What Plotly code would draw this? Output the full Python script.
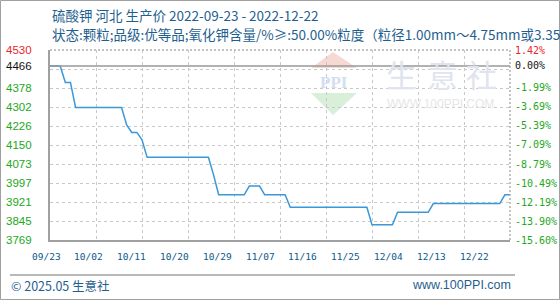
import numpy as np
import pandas as pd
import plotly.graph_objects as go

# ---------------- data ----------------
dates = ["2022-09-23", "2022-09-25", "2022-09-26", "2022-09-27", "2022-09-28",
         "2022-10-07", "2022-10-08", "2022-10-09", "2022-10-10", "2022-10-11",
         "2022-10-12", "2022-10-24", "2022-10-25", "2022-10-26", "2022-10-31",
         "2022-11-01", "2022-11-03", "2022-11-04", "2022-11-08", "2022-11-09",
         "2022-11-24", "2022-11-25", "2022-11-29", "2022-11-30", "2022-12-06",
         "2022-12-07", "2022-12-20", "2022-12-21", "2022-12-22"]
prices = [4466, 4466, 4400, 4400, 4300,
          4300, 4230, 4200, 4200, 4170,
          4100, 4100, 4030, 3950, 3950,
          3985, 3985, 3950, 3950, 3900,
          3900, 3830, 3830, 3880, 3880,
          3915, 3915, 3950, 3950]

x_tick_dates = ["2022-09-23", "2022-10-02", "2022-10-11", "2022-10-20", "2022-10-29",
                "2022-11-07", "2022-11-16", "2022-11-25", "2022-12-04", "2022-12-13",
                "2022-12-22"]
x_tick_labels = ["09/23", "10/02", "10/11", "10/20", "10/29", "11/07",
                 "11/16", "11/25", "12/04", "12/13", "12/22"]
left_labels = ["4530", "4466", "4378", "4302", "4226", "4150", "4073",
               "3997", "3921", "3845", "3769"]
right_labels = ["1.42%", "0.00%", "-1.99%", "-3.69%", "-5.39%", "-7.09%",
                "-8.79%", "-10.49%", "-12.19%", "-13.90%", "-15.60%"]

title1 = "硫酸钾 河北 生产价 2022-09-23 - 2022-12-22"
title2 = "状态:颗粒;品级:优等品;氧化钾含量/%≥:50.00%粒度（粒径1.00mm～4.75mm或3.35mm～"
footer_left = "© 2025.05 生意社"
footer_right = "www.100PPI.com"

# ---------------- geometry helpers ----------------
W, H = 560, 300
L, R, T, B = 10, 10, 50, 60
PW, PH = W - L - R, H - T - B
PLOT_X0, PLOT_X1 = 50, 510


def px(xp):
    return (xp - L) / PW


def py(yp):
    return (H - B - yp) / PH


ymin, ymax = 3769, 4530
base = 4466
grid_vals = np.linspace(ymin, ymax, 11)

d_start = pd.Timestamp(dates[0])
d_end = pd.Timestamp(dates[-1])
grid_dates = pd.date_range(d_start, d_end, periods=11)
span_days = (d_end - d_start) / pd.Timedelta(days=1)

# date labels: first centred at pixel 46, last at 474 (slightly compressed vs grid)
LAB0, LAB1 = 46, 474
lab_ppd = (LAB1 - LAB0) / span_days
plot_ppd = (PLOT_X1 - PLOT_X0) / span_days

fig = go.Figure()

fig.add_trace(go.Scatter(
    x=dates, y=prices, mode="lines",
    line=dict(color="#3a98d8", width=1.5),
    showlegend=False, hoverinfo="skip"))

grid_col = "#c8c8c8"
fig.update_layout(
    width=W, height=H,
    margin=dict(l=L, r=R, t=T, b=B, autoexpand=False),
    paper_bgcolor="white", plot_bgcolor="rgba(0,0,0,0)",
    xaxis=dict(type="date", range=[d_start, d_end], domain=[px(PLOT_X0), px(PLOT_X1)],
               tickvals=list(grid_dates), showticklabels=False, automargin=False,
               showgrid=True, gridcolor=grid_col, griddash="3px,3px", gridwidth=1,
               showline=True, linecolor="#a0a0a0", linewidth=2,
               zeroline=False, ticks=""),
    yaxis=dict(range=[ymin, ymax], tickvals=list(grid_vals), showticklabels=False,
               automargin=False,
               showgrid=True, gridcolor=grid_col, griddash="3px,3px", gridwidth=1,
               showline=True, linecolor="#a0a0a0", linewidth=2,
               zeroline=False, ticks=""),
)

shapes = []
# dotted top and right borders
shapes.append(dict(type="line", xref="paper", yref="paper", x0=px(PLOT_X0), x1=px(PLOT_X1),
                   y0=1, y1=1, line=dict(color="#b0b0b0", width=1.5, dash="2px,2px")))
shapes.append(dict(type="line", xref="paper", yref="paper", x0=px(PLOT_X1), x1=px(PLOT_X1),
                   y0=0, y1=1, line=dict(color="#b0b0b0", width=1.5, dash="2px,2px")))
# base price line
shapes.append(dict(type="line", xref="paper", yref="y", x0=px(PLOT_X0), x1=px(PLOT_X1),
                   y0=base, y1=base, line=dict(color="#999999", width=1.5)))
# footer separator
shapes.append(dict(type="line", xref="paper", yref="paper", x0=px(10), x1=px(515),
                   y0=py(275), y1=py(275), line=dict(color="#a0a0a0", width=1.5)))
# outer border
shapes.append(dict(type="rect", xref="paper", yref="paper", x0=px(0.5), x1=px(559.5),
                   y0=py(299.5), y1=py(0.5), line=dict(color="#a0a0a0", width=1)))


def tri(p1, p2, p3, color):
    path = "M {} {} L {} {} L {} {} Z".format(px(p1[0]), py(p1[1]), px(p2[0]), py(p2[1]),
                                            px(p3[0]), py(p3[1]))
    return dict(type="path", xref="paper", yref="paper", path=path,
                fillcolor=color, line=dict(width=0), layer="below")


# watermark logo triangles
shapes.append(tri((333, 52), (311, 68), (357, 68), "#f7d9d4"))
shapes.append(tri((311, 93), (357, 93), (333, 115), "#d9efd9"))
fig.update_layout(shapes=shapes)

ann = []
# titles
ann.append(dict(text=title1, x=px(50), y=py(15), xref="paper", yref="paper",
                xanchor="left", yanchor="middle", showarrow=False,
                font=dict(family="Noto Sans CJK SC", size=13.5, color="#1f5f8f")))
ann.append(dict(text=title2, x=px(50), y=py(34), xref="paper", yref="paper",
                xanchor="left", yanchor="middle", showarrow=False,
                font=dict(family="Noto Sans CJK SC", size=13.5, color="#1f5f8f")))
# x date labels (placed on the date axis, nudged to the reference's label spacing)
for d, lab in zip(x_tick_dates, x_tick_labels):
    day = (pd.Timestamp(d) - d_start) / pd.Timedelta(days=1)
    shift = (LAB0 + day * lab_ppd) - (PLOT_X0 + day * plot_ppd)
    ann.append(dict(text=lab, x=d, y=py(256.5), xref="x", yref="paper",
                    xanchor="center", yanchor="middle", showarrow=False, xshift=shift,
                    font=dict(family="DejaVu Sans Mono", size=9.5, color="#0a5a8a")))
# left labels
for i, lab in enumerate(left_labels):
    col = "#e8262b" if i == 0 else ("#111111" if i == 1 else "#22a822")
    ann.append(dict(text=lab, x=px(4), y=float(lab), xref="paper", yref="y",
                    xanchor="left", yanchor="middle", showarrow=False,
                    font=dict(family="Liberation Sans", size=11.5, color=col)))
# right labels
for i, lab in enumerate(right_labels):
    col = "#e8262b" if i == 0 else ("#111111" if i == 1 else "#22a822")
    ann.append(dict(text=lab, x=px(513), y=float(left_labels[i]), xref="paper", yref="y",
                    xanchor="left", yanchor="middle", showarrow=False,
                    font=dict(family="DejaVu Sans Mono", size=10, color=col)))
# footer
ann.append(dict(text=footer_left, x=px(9), y=py(285), xref="paper", yref="paper",
                xanchor="left", yanchor="middle", showarrow=False,
                font=dict(family="Noto Sans CJK SC", size=12.5, color="#1f5f8f")))
ann.append(dict(text=footer_right, x=px(513), y=py(285), xref="paper", yref="paper",
                xanchor="right", yanchor="middle", showarrow=False,
                font=dict(family="Liberation Sans", size=12.5, color="#1f5f8f")))
# watermark text
for ch, cx in zip("生意社", [401, 442, 481]):
    ann.append(dict(text=ch, x=px(cx), y=py(73), xref="paper", yref="paper",
                    xanchor="center", yanchor="middle", showarrow=False,
                    font=dict(family="Noto Sans CJK SC", size=31, color="#dfe4ef")))
ann.append(dict(text="WWW.100PPI.COM", x=px(440), y=py(104), xref="paper", yref="paper",
                xanchor="center", yanchor="middle", showarrow=False,
                font=dict(family="Liberation Sans", size=12, color="#e6e6e6")))
ann.append(dict(text="<b>PPI</b>", x=px(334), y=py(82), xref="paper", yref="paper",
                xanchor="center", yanchor="middle", showarrow=False,
                font=dict(family="Liberation Serif", size=17, color="#d3def0")))
fig.update_layout(annotations=ann)

fig.write_html("out.html")
